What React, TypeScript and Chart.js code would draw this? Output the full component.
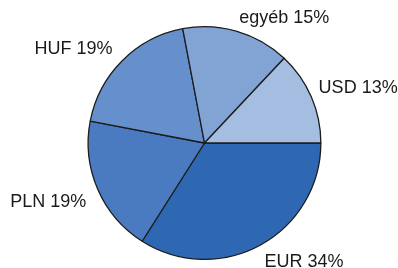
import React, { useEffect, useRef } from "react";
import { Chart, registerables } from "chart.js";

Chart.register(...registerables);

const categories = ["EUR", "PLN", "HUF", "egyéb", "USD"];
const shares = [34, 19, 19, 15, 13];
const colors = ["#2E67B2", "#4A7BC0", "#6590CC", "#82A4D5", "#A5BDE0"];

const outsideLabels = {
  id: "outsideLabels",
  afterDatasetsDraw(chart: any) {
    const ctx = chart.ctx;
    const meta = chart.getDatasetMeta(0);
    ctx.save();
    ctx.font = "18px 'Liberation Sans', Arial, sans-serif";
    ctx.fillStyle = "#1a1a1a";
    meta.data.forEach((arc: any, i: number) => {
      const p = arc.getProps(["x", "y", "startAngle", "endAngle", "outerRadius"], true);
      const mid = (p.startAngle + p.endAngle) / 2;
      const c = Math.cos(mid);
      const s = Math.sin(mid);
      const r = p.outerRadius + 8;
      const ax = p.x + c * r + (c >= 0 ? 0 : -4);
      const ay = p.y + s * r;
      ctx.textAlign = c >= 0 ? "left" : "right";
      ctx.textBaseline = s >= 0 ? "top" : "bottom";
      ctx.fillText(`${categories[i]} ${shares[i]}%`, ax, ay + (s >= 0 ? 1 : 3));
    });
    ctx.restore();
  },
};

export default function App() {
  const ref = useRef<HTMLCanvasElement>(null);
  useEffect(() => {
    document.body.style.margin = "0";
    const chart = new Chart(ref.current!, {
      type: "pie",
      data: {
        labels: categories,
        datasets: [
          {
            data: shares,
            backgroundColor: colors,
            borderColor: "#1c1c1c",
            borderWidth: 1.3,
          },
        ],
      },
      options: {
        animation: false,
        responsive: false,
        rotation: 90,
        layout: { padding: { left: 87.5, right: 76.5, top: 26, bottom: 8 } },
        plugins: {
          legend: { display: false },
          tooltip: { enabled: false },
          title: { display: false },
        },
      },
      plugins: [outsideLabels],
    });
    return () => chart.destroy();
  }, []);
  return (
    <div style={{ position: "absolute", left: 0, top: 0, width: 398, height: 268, background: "#fff" }}>
      <canvas ref={ref} width={398} height={268} style={{ width: 398, height: 268 }} />
    </div>
  );
}
